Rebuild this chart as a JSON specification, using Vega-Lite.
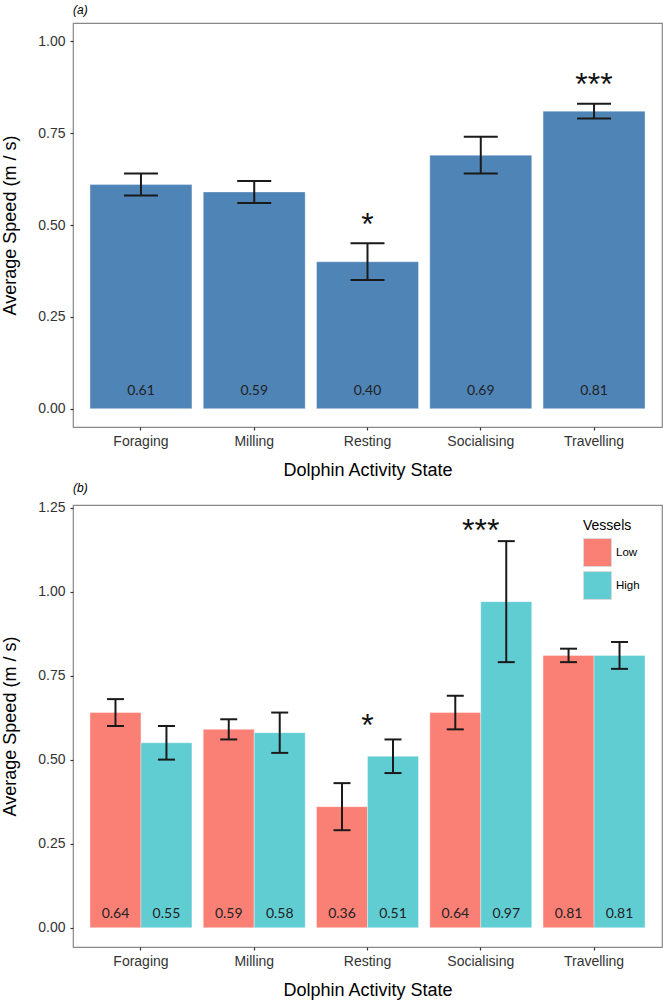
{
  "$schema": "https://vega.github.io/schema/vega-lite/v6.json",
  "padding": {"left": 0, "top": 3, "right": 4, "bottom": 4},
  "spacing": 0,
  "resolve": {"scale": {"color": "independent"}, "legend": {"color": "independent"}},
  "config": {
    "view": {"stroke": "#888888", "strokeWidth": 1.2},
    "font": "Liberation Sans",
    "axis": {"domain": false, "grid": false, "tickColor": "#333333", "tickSize": 3, "tickWidth": 1.2, "labelFont": "Liberation Sans", "labelFontSize": 14, "labelColor": "#333333", "titleFont": "Liberation Sans", "titleFontSize": 18, "titleFontWeight": "normal", "titleColor": "#000000"},
    "axisX": {"labelAngle": 0, "labelPadding": 4, "titlePadding": 13},
    "axisY": {"labelPadding": 5, "titlePadding": 14, "minExtent": 40, "maxExtent": 40},
    "title": {"anchor": "start", "frame": "group", "fontSize": 12, "fontStyle": "italic", "fontWeight": "normal", "font": "Liberation Sans", "offset": 6, "color": "#000000"}
  },
  "datasets": {
    "a": [
      {"state": "Foraging", "speed": 0.61, "lo": 0.58, "hi": 0.64},
      {"state": "Milling", "speed": 0.59, "lo": 0.56, "hi": 0.62},
      {"state": "Resting", "speed": 0.40, "lo": 0.35, "hi": 0.45},
      {"state": "Socialising", "speed": 0.69, "lo": 0.64, "hi": 0.74},
      {"state": "Travelling", "speed": 0.81, "lo": 0.79, "hi": 0.83}
    ],
    "sigA": [
      {"state": "Resting", "sig": "*", "y": 0.50},
      {"state": "Travelling", "sig": "***", "y": 0.88}
    ],
    "b": [
      {"state": "Foraging", "vessels": "Low", "speed": 0.64, "lo": 0.60, "hi": 0.68},
      {"state": "Foraging", "vessels": "High", "speed": 0.55, "lo": 0.50, "hi": 0.60},
      {"state": "Milling", "vessels": "Low", "speed": 0.59, "lo": 0.56, "hi": 0.62},
      {"state": "Milling", "vessels": "High", "speed": 0.58, "lo": 0.52, "hi": 0.64},
      {"state": "Resting", "vessels": "Low", "speed": 0.36, "lo": 0.29, "hi": 0.43},
      {"state": "Resting", "vessels": "High", "speed": 0.51, "lo": 0.46, "hi": 0.56},
      {"state": "Socialising", "vessels": "Low", "speed": 0.64, "lo": 0.59, "hi": 0.69},
      {"state": "Socialising", "vessels": "High", "speed": 0.97, "lo": 0.79, "hi": 1.15},
      {"state": "Travelling", "vessels": "Low", "speed": 0.81, "lo": 0.79, "hi": 0.83},
      {"state": "Travelling", "vessels": "High", "speed": 0.81, "lo": 0.77, "hi": 0.85}
    ],
    "sigB": [
      {"state": "Resting", "sig": "*", "y": 0.60},
      {"state": "Socialising", "sig": "***", "y": 1.18}
    ]
  },
  "vconcat": [
    {
      "title": "(a)",
      "width": 589,
      "height": 404,
      "encoding": {
        "x": {"field": "state", "type": "nominal", "title": "Dolphin Activity State", "scale": {"domain": ["Foraging", "Milling", "Resting", "Socialising", "Travelling"], "paddingInner": 0.1, "paddingOuter": 0.15}}
      },
      "layer": [
        {
          "data": {"name": "a"},
          "mark": {"type": "bar", "color": "#4f84b7", "stroke": "#ffffff", "strokeOpacity": 0.35, "strokeWidth": 1},
          "encoding": {
            "y": {"field": "speed", "type": "quantitative", "title": "Average Speed (m / s)", "scale": {"domain": [-0.05, 1.05], "nice": false, "zero": false}, "axis": {"values": [0, 0.25, 0.5, 0.75, 1], "format": ".2f"}},
            "y2": {"datum": 0}
          }
        },
        {
          "data": {"name": "a"},
          "mark": {"type": "rule", "color": "#1a1a1a", "strokeWidth": 2},
          "encoding": {"y": {"field": "lo", "type": "quantitative"}, "y2": {"field": "hi"}}
        },
        {
          "data": {"name": "a"},
          "mark": {"type": "tick", "color": "#1a1a1a", "thickness": 2, "size": 34, "opacity": 1},
          "encoding": {"y": {"field": "lo", "type": "quantitative"}}
        },
        {
          "data": {"name": "a"},
          "mark": {"type": "tick", "color": "#1a1a1a", "thickness": 2, "size": 34, "opacity": 1},
          "encoding": {"y": {"field": "hi", "type": "quantitative"}}
        },
        {
          "data": {"name": "a"},
          "mark": {"type": "text", "font": "Lato", "fontSize": 14, "color": "#222222", "baseline": "middle"},
          "encoding": {"y": {"datum": 0.047}, "text": {"field": "speed", "type": "quantitative", "format": ".2f"}}
        },
        {
          "data": {"name": "sigA"},
          "mark": {"type": "text", "font": "Liberation Sans", "fontSize": 32, "color": "#111111", "baseline": "middle"},
          "encoding": {"y": {"field": "y", "type": "quantitative"}, "text": {"field": "sig"}}
        }
      ]
    },
    {
      "title": "(b)",
      "width": 589,
      "height": 442,
      "encoding": {
        "x": {"field": "state", "type": "nominal", "title": "Dolphin Activity State", "scale": {"domain": ["Foraging", "Milling", "Resting", "Socialising", "Travelling"], "paddingInner": 0.1, "paddingOuter": 0.15}}
      },
      "layer": [
        {
          "data": {"name": "b"},
          "mark": {"type": "bar", "stroke": "#ffffff", "strokeOpacity": 0.35, "strokeWidth": 1},
          "encoding": {
            "xOffset": {"field": "vessels", "type": "nominal", "scale": {"domain": ["Low", "High"], "paddingInner": 0, "paddingOuter": 0}},
            "y": {"field": "speed", "type": "quantitative", "title": "Average Speed (m / s)", "scale": {"domain": [-0.0575, 1.2575], "nice": false, "zero": false}, "axis": {"values": [0, 0.25, 0.5, 0.75, 1, 1.25], "format": ".2f"}},
            "y2": {"datum": 0},
            "color": {
              "field": "vessels", "type": "nominal",
              "scale": {"domain": ["Low", "High"], "range": ["#fa8076", "#60cdd3"]},
              "legend": {"orient": "none", "legendX": 510, "legendY": 14, "title": "Vessels", "titleFontSize": 14, "titleFont": "Liberation Sans", "titleFontWeight": "normal", "titleColor": "#000000", "titlePadding": 5, "labelFontSize": 11.5, "labelFont": "Liberation Sans", "labelColor": "#000000", "labelOffset": 4, "symbolType": "square", "symbolSize": 784, "symbolStrokeColor": "#d9d9d9", "symbolStrokeWidth": 1, "symbolOpacity": 1, "rowPadding": 0, "padding": 0}
            }
          }
        },
        {
          "data": {"name": "b"},
          "mark": {"type": "rule", "color": "#1a1a1a", "strokeWidth": 2},
          "encoding": {"xOffset": {"field": "vessels", "type": "nominal"}, "y": {"field": "lo", "type": "quantitative"}, "y2": {"field": "hi"}}
        },
        {
          "data": {"name": "b"},
          "mark": {"type": "tick", "color": "#1a1a1a", "thickness": 2, "size": 17, "opacity": 1},
          "encoding": {"xOffset": {"field": "vessels", "type": "nominal"}, "y": {"field": "lo", "type": "quantitative"}}
        },
        {
          "data": {"name": "b"},
          "mark": {"type": "tick", "color": "#1a1a1a", "thickness": 2, "size": 17, "opacity": 1},
          "encoding": {"xOffset": {"field": "vessels", "type": "nominal"}, "y": {"field": "hi", "type": "quantitative"}}
        },
        {
          "data": {"name": "b"},
          "mark": {"type": "text", "font": "Lato", "fontSize": 14, "color": "#222222", "baseline": "middle"},
          "encoding": {"xOffset": {"field": "vessels", "type": "nominal"}, "y": {"datum": 0.04}, "text": {"field": "speed", "type": "quantitative", "format": ".2f"}}
        },
        {
          "data": {"name": "sigB"},
          "mark": {"type": "text", "font": "Liberation Sans", "fontSize": 32, "color": "#111111", "baseline": "middle"},
          "encoding": {"y": {"field": "y", "type": "quantitative"}, "text": {"field": "sig"}}
        }
      ]
    }
  ]
}
